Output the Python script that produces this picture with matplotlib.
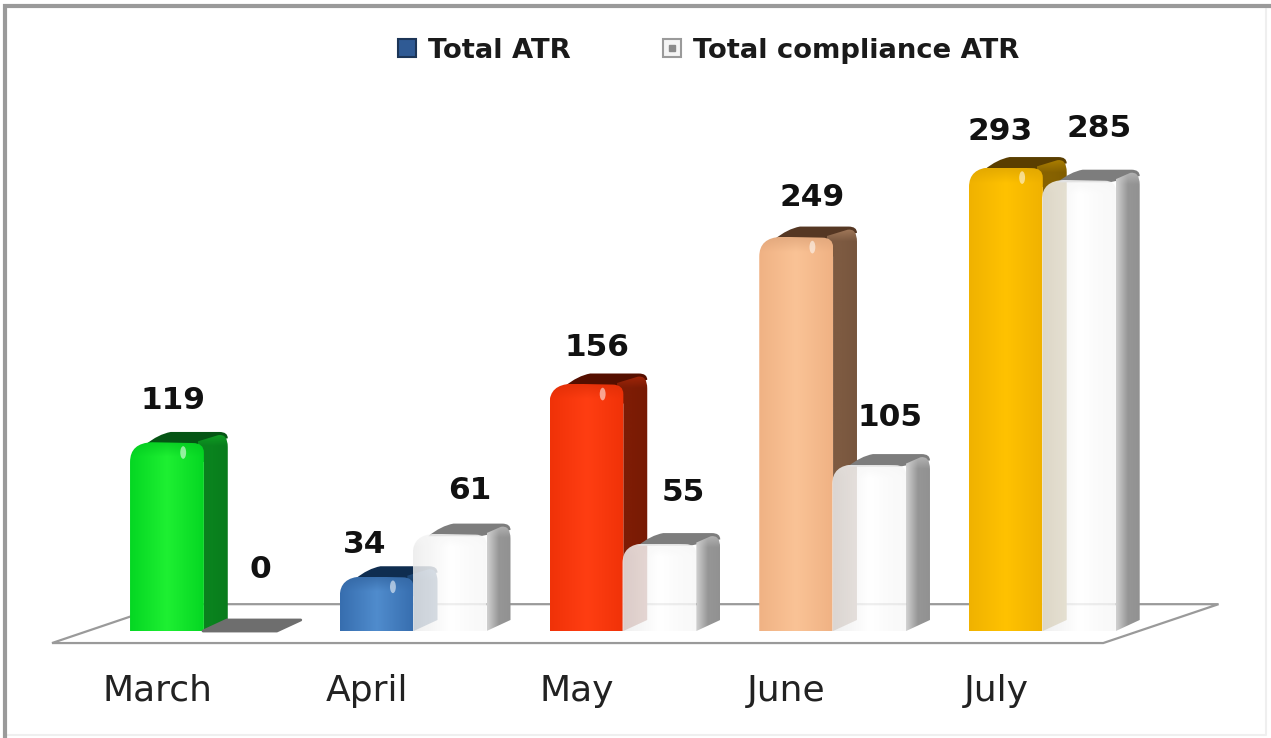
import numpy as np
import matplotlib.pyplot as plt
from matplotlib.legend_handler import HandlerTuple
from matplotlib.lines import Line2D
from matplotlib.patches import PathPatch, Polygon, Ellipse
from matplotlib.path import Path

months = ['March', 'April', 'May', 'June', 'July']
total_atr = [119, 34, 156, 249, 293]
total_compliance = [0, 61, 55, 105, 285]

front_cols = [(30, 240, 50), (80, 140, 205), (255, 62, 18), (250, 195, 150), (255, 194, 0)]
edge_cols = [(5, 215, 35), (55, 110, 175), (240, 50, 8), (240, 178, 132), (240, 178, 0)]
side_cols = [(10, 130, 30), (25, 65, 110), (125, 28, 5), (125, 90, 65), (135, 98, 0)]
top_cols = [(5, 85, 20), (15, 45, 80), (85, 15, 0), (85, 55, 35), (90, 62, 0)]

# label offsets from the top of the bar, in points
atr_label_off = [(-4, 22.5), (-17, 16), (-1, 19), (3, 21), (-13, 18.5)]
comp_label_off = [(6, 36.5), (6, 23.5), (8.5, 29), (6.5, 26), (6, 30)]

bar_w = 0.352
comp_shift = 0.348
depth_x = 0.114
depth_y = 7.0
rx = 0.105
ry = 12.0


def col(c):
    return np.array(c) / 255


def gradient(left, mid, right, n=64):
    t = np.linspace(0, 1, n)[:, None]
    g = np.where(t < 0.5, left + (mid - left) * t * 2, mid + (right - mid) * (t - 0.5) * 2)
    return g[None, :, :]


def top_blend(g, colour, v, band, n=200):
    # fade the top of a face towards another colour, gives the rounded look
    rows = np.linspace(v, 0, n)
    t = np.clip(1 - (v - rows) / band, 0, 1)[:, None, None]
    return g * (1 - t * 0.75) + colour * t * 0.75


def draw_bar(ax, x, v, front, edge, side, top, z, alpha=1.0, soft_side=False):
    w = bar_w
    d = depth_x
    h = depth_y
    if v == 0:
        ax.add_patch(Polygon([(x, 0), (x + w, 0), (x + w + d, h), (x + d, h)], closed=True,
                             fc=col(top), ec=col(top), lw=2, joinstyle='round', zorder=z))
        return
    r_y = min(ry, v * 0.4)
    # side runs a little under the opaque fronts so the corner has no gap
    under = 0.03 if alpha == 1 else 0.0
    # top face
    top_path = Path([(x + rx * 0.7, v - 1), (x + rx + 0.03, v + h * 0.8), (x + d + 0.08, v + h),
                     (x + w + d - 0.04, v + h), (x + w + d, v + h), (x + w + d, v + h - 4),
                     (x + w - 0.03, v - 1), (x + rx * 0.7, v - 1)],
                    [Path.MOVETO, Path.CURVE3, Path.CURVE3, Path.LINETO, Path.CURVE3, Path.CURVE3,
                     Path.LINETO, Path.CLOSEPOLY])
    ax.add_patch(PathPatch(top_path, fc=col(top), ec='none', zorder=z))
    # side face
    side_path = Path([(x + w, 0), (x + w + d, h), (x + w + d, v + h - r_y * 0.8), (x + w + d, v + h - 1),
                      (x + w + d - 0.045, v + h - 2), (x + w - under, v + 1), (x + w - under, v - r_y),
                      (x + w, v - r_y), (x + w, 0)],
                     [Path.MOVETO, Path.LINETO, Path.LINETO, Path.CURVE3, Path.CURVE3, Path.LINETO,
                      Path.LINETO, Path.LINETO, Path.CLOSEPOLY])
    p = PathPatch(side_path, fc='none', ec='none', zorder=z + 1)
    ax.add_patch(p)
    g = gradient(col(side), col(side), col(side) * 0.95, 32)
    if soft_side:
        g = gradient(col(side) * 0.45 + col(front) * 0.55, col(side), col(side) * 0.97, 32)
    g = top_blend(g, col(side) * 0.55 + col(front) * 0.45, v + h, 9)
    im = ax.imshow(g, extent=(x + w - under, x + w + d, 0, v + h), aspect='auto', zorder=z + 1,
                   interpolation='bilinear')
    im.set_clip_path(p)
    # front face with rounded top corners
    front_path = Path([(x, 0), (x, v - r_y), (x, v), (x + rx, v + 0.5), (x + w - rx * 0.5, v),
                       (x + w, v), (x + w, v - r_y * 0.5), (x + w, 0), (x, 0)],
                      [Path.MOVETO, Path.LINETO, Path.CURVE3, Path.CURVE3, Path.LINETO,
                       Path.CURVE3, Path.CURVE3, Path.LINETO, Path.CLOSEPOLY])
    p2 = PathPatch(front_path, fc='none', ec='none', zorder=z + 2)
    ax.add_patch(p2)
    if alpha < 1:
        g2 = gradient(col(edge), col(front), col(front) * 0.97, 64)
        g2 = top_blend(g2, col(front) * 0.96, v, 8)
        a = np.full(g2.shape[:2] + (1,), alpha)
        g2 = np.concatenate([g2, a], axis=2)
    else:
        g2 = gradient(col(edge), col(front), col(edge), 64)
        g2 = top_blend(g2, col(edge) * 0.93, v, 9)
    im2 = ax.imshow(g2, extent=(x, x + w, 0, v), aspect='auto', zorder=z + 2, interpolation='bilinear')
    im2.set_clip_path(p2)
    # small glint near the top corner
    if alpha == 1:
        ax.add_patch(Ellipse((x + w * 0.72, v - min(6, v * 0.2)), 0.028, 8, fc='white',
                             ec='none', alpha=0.55, zorder=z + 3))


fig = plt.figure(figsize=(12.71, 7.38), dpi=100)
ax = fig.add_axes([0, 0, 1, 1])
ax.axis('off')

# floor
ax.add_patch(Polygon([(-0.372, -7.6), (4.64, -7.6), (5.19, 17), (0.176, 17)], closed=True,
                     fc='white', ec='#9a9a9a', lw=1.6, zorder=1))

xs = np.arange(len(months))
z = 5
for i, m in enumerate(months):
    draw_bar(ax, xs[i], total_atr[i], front_cols[i], edge_cols[i], side_cols[i], top_cols[i], z)
    z += 5
    draw_bar(ax, xs[i] + comp_shift, total_compliance[i], (255, 255, 255), (236, 236, 236),
             (150, 150, 150), (110, 110, 110) if total_compliance[i] == 0 else (125, 125, 125),
             z, alpha=0.85, soft_side=True)
    z += 5

    ax.annotate(str(total_atr[i]), (xs[i] + bar_w / 2 + depth_x / 2, total_atr[i] + depth_y),
                xytext=atr_label_off[i], textcoords='offset points', ha='center', va='center',
                fontsize=22.5, fontweight='bold', color='#111111', zorder=200)
    ax.annotate(str(total_compliance[i]),
                (xs[i] + comp_shift + bar_w / 2 + depth_x / 2, total_compliance[i] + depth_y),
                xytext=comp_label_off[i], textcoords='offset points', ha='center', va='center',
                fontsize=22.5, fontweight='bold', color='#111111', zorder=200)
    ax.annotate(m, (xs[i] + 0.13, 0), xytext=(0, -43), textcoords='offset points', ha='center',
                va='center', fontsize=26, color='#222222', zorder=200)

ax.set_xlim(-0.62, 5.44)
ax.set_ylim(-67.7, 399.4)

# outer frame, only top and left are really visible
ax.plot([0.996, 0.996, 0.004], [0.992, 0.004, 0.004], transform=ax.transAxes, color='#efefef', lw=1.5, zorder=299)
ax.plot([0.004, 0.004, 0.999], [0.0, 0.992, 0.992], transform=ax.transAxes, color='#9a9a9a', lw=3, zorder=300,
        solid_joinstyle='miter')

handles = [Line2D([], [], ls='none', marker='s', ms=13, mfc='#2f5a94', mec='#1c3557', mew=1.5),
           (Line2D([], [], ls='none', marker='s', ms=13, mfc='#f4f4f4', mec='#9a9a9a', mew=1.5),
            Line2D([], [], ls='none', marker='s', ms=4.5, mfc='#8a8a8a', mec='#8a8a8a'))]
ax.legend(handles, ['Total ATR', 'Total compliance ATR'], ncol=2, frameon=False,
          loc='center', bbox_to_anchor=(0.5504, 0.931), prop={'size': 19.7, 'weight': 'bold'},
          handletextpad=-0.22, columnspacing=2.7, labelcolor='#1a1a1a',
          handler_map={tuple: HandlerTuple(ndivide=1)})

fig.savefig('out.png', dpi=100)
